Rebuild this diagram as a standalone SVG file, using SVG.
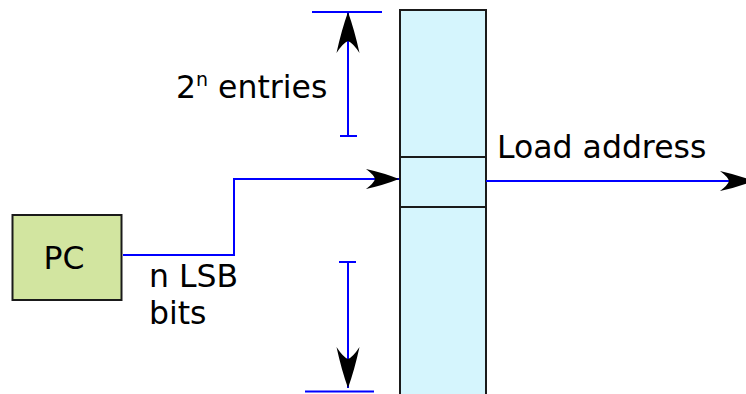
<svg xmlns="http://www.w3.org/2000/svg" width="746" height="394" viewBox="0 0 746 394">
<style>
.txt{font-family:"DejaVu Sans",sans-serif;font-size:31.5px;fill:#000}
.wire{fill:none;stroke:#0000ff;stroke-width:2}
.box{stroke:#1a1a1a;stroke-width:2}
.head{fill:#000}
</style>
<defs>
<marker id="arrH" markerUnits="userSpaceOnUse" viewBox="-34 -11 35 22" refX="0" refY="0" markerWidth="35" markerHeight="22" orient="auto" overflow="visible">
<path class="head" d="M0,0 Q-15,-6 -33,-10 Q-25,-4 -24,0 Q-25,4 -33,10 Q-15,6 0,0 Z"/>
</marker>
<marker id="arrV" markerUnits="userSpaceOnUse" viewBox="-42 -12 43 24" refX="0" refY="0" markerWidth="43" markerHeight="24" orient="auto" overflow="visible">
<path class="head" d="M0,0 Q-18,-6.5 -41,-11.5 Q-31,-5 -29,0 Q-31,5 -41,11.5 Q-18,6.5 0,0 Z"/>
</marker>
</defs>
<rect width="746" height="394" fill="#fff"/>
<g id="table">
<rect class="box" x="400" y="10" width="86" height="400" fill="#d5f5fd"/>
<line class="box" x1="400" y1="157" x2="486" y2="157"/>
<line class="box" x1="400" y1="207" x2="486" y2="207"/>
</g>
<g id="pc">
<rect class="box" x="12.5" y="215" width="109" height="85" fill="#d2e5a0" stroke-width="3"/>
<text class="txt" x="64" y="269" text-anchor="middle">PC</text>
</g>
<g id="connectors">
<path class="wire" d="M123,255 H234 V179 H399" marker-end="url(#arrH)"/>
<path class="wire" d="M486,181 H753" marker-end="url(#arrH)"/>
<line class="wire" x1="312" y1="12" x2="382" y2="12"/>
<path class="wire" d="M348,136 V12" marker-end="url(#arrV)"/>
<line class="wire" x1="340" y1="136" x2="357" y2="136"/>
<line class="wire" x1="339" y1="262" x2="356" y2="262"/>
<path class="wire" d="M348,262 V388" marker-end="url(#arrV)"/>
<line class="wire" x1="305" y1="391.5" x2="374" y2="391.5"/>
</g>
<g id="labels">
<text class="txt" x="176" y="98">2<tspan font-size="19" dy="-12">n</tspan><tspan dy="12"> entries</tspan></text>
<text class="txt" x="497" y="158">Load address</text>
<text class="txt" x="149" y="287">n LSB</text>
<text class="txt" x="149" y="324">bits</text>
</g>
</svg>
